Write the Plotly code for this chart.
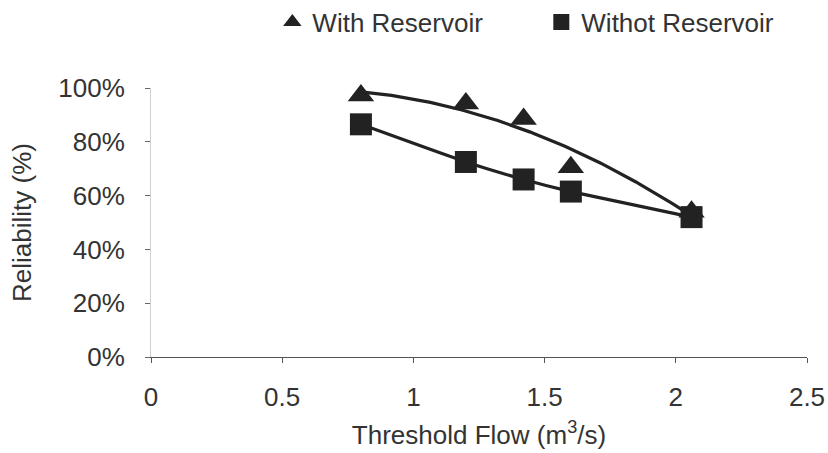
import numpy as np
import plotly.graph_objects as go

# Threshold flow (m3/s) and reliability (fraction)
flow = [0.80, 1.20, 1.42, 1.60, 2.06]
with_reservoir = [0.972, 0.942, 0.885, 0.705, 0.54]
without_reservoir = [0.865, 0.725, 0.66, 0.615, 0.52]

x_ticks = [0, 0.5, 1, 1.5, 2, 2.5]
y_ticks = [0, 0.2, 0.4, 0.6, 0.8, 1.0]
y_tick_text = ["0%", "20%", "40%", "60%", "80%", "100%"]

INK = "#222222"
TEXT = "#333333"
FONT = "Liberation Sans, Arial, sans-serif"
FS = 26

# second-order trend line through the "with reservoir" points
coef = np.polyfit(flow, with_reservoir, 2)
xs = np.linspace(min(flow), max(flow), 120)
ys = np.polyval(coef, xs)

fig = go.Figure()

fig.add_trace(go.Scatter(x=xs, y=ys, mode="lines",
                         line=dict(color=INK, width=3.2),
                         showlegend=False, hoverinfo="skip"))
fig.add_trace(go.Scatter(x=flow, y=without_reservoir, mode="lines",
                         line=dict(color=INK, width=3.2, shape="spline", smoothing=0.4),
                         showlegend=False, hoverinfo="skip"))
fig.add_trace(go.Scatter(x=flow, y=with_reservoir, mode="markers",
                         marker=dict(symbol="triangle-up", size=23, color=INK),
                         name="With Reservoir", cliponaxis=False, legend="legend"))
fig.add_trace(go.Scatter(x=flow, y=without_reservoir, mode="markers",
                         marker=dict(symbol="square", size=22, color=INK),
                         name="Withot Reservoir", cliponaxis=False, legend="legend2"))

legend_common = dict(orientation="h", yanchor="middle", xanchor="left", y=1.245,
                     font=dict(size=FS, color=TEXT), bgcolor="rgba(0,0,0,0)",
                     itemsizing="trace", borderwidth=0)

fig.update_layout(
    width=828, height=453,
    margin=dict(l=151, r=21, t=88, b=96, autoexpand=False),
    paper_bgcolor="white", plot_bgcolor="white",
    font=dict(family=FONT, color=TEXT, size=FS),
    legend=dict(x=0.185, **legend_common),
    legend2=dict(x=0.595, **legend_common),
    xaxis=dict(range=[0, 2.5], tickvals=x_ticks, ticktext=[str(v) for v in x_ticks],
               showgrid=False, zeroline=False, showline=True, linecolor="#555555",
               linewidth=1.2, ticks="outside", ticklen=5, tickcolor="#555555",
               ticklabelstandoff=12, tickfont=dict(size=FS), automargin=False,
               title=dict(text="Threshold Flow (m<sup>3</sup>/s)", font=dict(size=FS),
                          standoff=14)),
    yaxis=dict(range=[0, 1.0], tickvals=y_ticks, ticktext=y_tick_text,
               showgrid=False, zeroline=False, showline=True, linecolor="#d0d0d0",
               linewidth=1, ticks="outside", ticklen=5, tickcolor="#666666",
               ticklabelstandoff=15, tickfont=dict(size=FS), automargin=False,
               title=dict(text="Reliability (%)", font=dict(size=FS), standoff=19)),
)

fig.write_html("out.html")
